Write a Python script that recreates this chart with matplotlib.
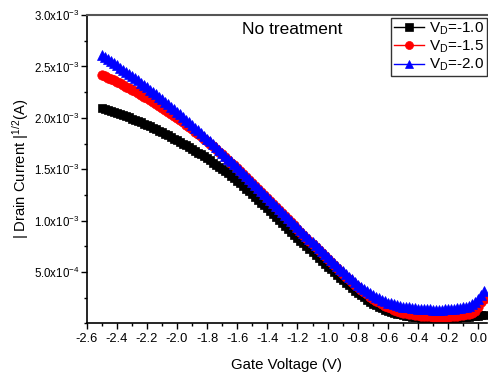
import numpy as np
import matplotlib
matplotlib.use("Agg")
import matplotlib.pyplot as plt
from matplotlib.ticker import FixedLocator, MultipleLocator

plt.rcParams['font.family'] = ['Liberation Sans', 'DejaVu Sans']
plt.rcParams['mathtext.fontset'] = 'custom'
plt.rcParams['mathtext.rm'] = 'Liberation Sans'
plt.rcParams['mathtext.default'] = 'regular'

# Gate voltage sweep (V), 0.02 V steps
gate_voltage = np.round(np.arange(-2.50, 0.041, 0.02), 2)

# |Drain current|^(1/2) in units of 1e-3 A^(1/2)
sqrt_id_vd10 = [
    2.100, 2.090, 2.080, 2.070, 2.060, 2.050, 2.039, 2.027, 2.016, 2.004,
    1.993, 1.981, 1.968, 1.955, 1.943, 1.930, 1.916, 1.902, 1.888, 1.874,
    1.860, 1.845, 1.829, 1.814, 1.798, 1.783, 1.766, 1.750, 1.733, 1.717,
    1.700, 1.681, 1.662, 1.643, 1.624, 1.605, 1.585, 1.565, 1.545, 1.525,
    1.505, 1.482, 1.459, 1.436, 1.413, 1.390, 1.364, 1.338, 1.312, 1.286,
    1.260, 1.232, 1.204, 1.176, 1.148, 1.120, 1.092, 1.063, 1.035, 1.006,
    0.978, 0.949, 0.921, 0.892, 0.864, 0.835, 0.806, 0.778, 0.749, 0.721,
    0.692, 0.664, 0.636, 0.608, 0.580, 0.552, 0.525, 0.498, 0.472, 0.445,
    0.418, 0.393, 0.369, 0.344, 0.320, 0.295, 0.273, 0.252, 0.232, 0.212,
    0.193, 0.177, 0.162, 0.148, 0.135, 0.122, 0.113, 0.104, 0.096, 0.088,
    0.080, 0.075, 0.071, 0.066, 0.062, 0.058, 0.056, 0.054, 0.053, 0.051,
    0.050, 0.050, 0.050, 0.051, 0.051, 0.052, 0.053, 0.055, 0.056, 0.058,
    0.060, 0.063, 0.066, 0.069, 0.072, 0.075, 0.080, 0.085,
]
sqrt_id_vd15 = [
    2.420, 2.406, 2.392, 2.378, 2.364, 2.350, 2.335, 2.319, 2.304, 2.288,
    2.273, 2.256, 2.240, 2.223, 2.207, 2.190, 2.172, 2.154, 2.136, 2.118,
    2.100, 2.080, 2.060, 2.040, 2.020, 2.000, 1.978, 1.956, 1.934, 1.912,
    1.890, 1.866, 1.843, 1.819, 1.796, 1.772, 1.747, 1.721, 1.696, 1.670,
    1.645, 1.618, 1.591, 1.564, 1.537, 1.510, 1.482, 1.453, 1.425, 1.396,
    1.368, 1.339, 1.310, 1.280, 1.251, 1.222, 1.192, 1.162, 1.133, 1.103,
    1.073, 1.043, 1.013, 0.983, 0.953, 0.923, 0.893, 0.863, 0.833, 0.803,
    0.773, 0.743, 0.714, 0.684, 0.655, 0.625, 0.596, 0.568, 0.539, 0.511,
    0.482, 0.456, 0.429, 0.403, 0.376, 0.350, 0.328, 0.305, 0.283, 0.260,
    0.238, 0.221, 0.205, 0.188, 0.172, 0.155, 0.145, 0.134, 0.124, 0.113,
    0.103, 0.098, 0.093, 0.087, 0.082, 0.077, 0.075, 0.073, 0.070, 0.068,
    0.066, 0.066, 0.066, 0.066, 0.067, 0.067, 0.069, 0.071, 0.074, 0.077,
    0.082, 0.087, 0.094, 0.103, 0.125, 0.160, 0.205, 0.240,
]
sqrt_id_vd20 = [
    2.610, 2.590, 2.570, 2.550, 2.530, 2.510, 2.489, 2.469, 2.448, 2.428,
    2.407, 2.385, 2.363, 2.342, 2.320, 2.298, 2.275, 2.252, 2.228, 2.205,
    2.182, 2.158, 2.133, 2.109, 2.084, 2.060, 2.034, 2.009, 1.983, 1.958,
    1.932, 1.905, 1.878, 1.852, 1.825, 1.798, 1.770, 1.743, 1.715, 1.688,
    1.660, 1.632, 1.604, 1.576, 1.548, 1.520, 1.491, 1.463, 1.434, 1.406,
    1.377, 1.348, 1.319, 1.290, 1.261, 1.232, 1.203, 1.173, 1.144, 1.114,
    1.085, 1.055, 1.026, 0.996, 0.967, 0.937, 0.908, 0.878, 0.849, 0.819,
    0.790, 0.761, 0.732, 0.703, 0.674, 0.645, 0.617, 0.589, 0.561, 0.533,
    0.505, 0.480, 0.454, 0.429, 0.403, 0.378, 0.357, 0.337, 0.316, 0.296,
    0.275, 0.261, 0.246, 0.232, 0.217, 0.203, 0.195, 0.187, 0.179, 0.171,
    0.163, 0.159, 0.155, 0.151, 0.147, 0.143, 0.141, 0.139, 0.138, 0.136,
    0.134, 0.134, 0.134, 0.135, 0.136, 0.137, 0.139, 0.142, 0.145, 0.149,
    0.155, 0.162, 0.172, 0.185, 0.205, 0.235, 0.275, 0.315,
]

series_labels = [r"V$_{D}$=-1.0", r"V$_{D}$=-1.5", r"V$_{D}$=-2.0"]
series_colors = ["black", "red", "blue"]
series_markers = ["s", "o", "^"]
series_msize = [6.3, 6.8, 7.5]

y_ticks = [5.0e-4, 1.0e-3, 1.5e-3, 2.0e-3, 2.5e-3, 3.0e-3]
y_tick_labels = [r"5.0x10$^{-4}$", r"1.0x10$^{-3}$", r"1.5x10$^{-3}$",
                 r"2.0x10$^{-3}$", r"2.5x10$^{-3}$", r"3.0x10$^{-3}$"]
x_ticks = np.round(np.arange(-2.6, 0.01, 0.2), 1)
x_tick_labels = [f"{v:.1f}" if abs(v) > 1e-9 else "0.0" for v in x_ticks]

fig = plt.figure(figsize=(4.88, 3.76), dpi=100)
ax = fig.add_axes([86.6 / 488, 1 - 323.4 / 376, 400.6 / 488, 308.4 / 376])

for vals, lab, col, mk, ms in zip(
        [sqrt_id_vd10, sqrt_id_vd15, sqrt_id_vd20],
        series_labels, series_colors, series_markers, series_msize):
    ax.plot(gate_voltage, np.array(vals) * 1e-3, color=col, marker=mk,
            markersize=ms, linewidth=1.0, markeredgewidth=0.5,
            markeredgecolor=col, label=lab)

ax.set_xlim(-2.6, 0.06)
ax.set_ylim(0, 3.0e-3)

ax.xaxis.set_major_locator(FixedLocator(x_ticks))
ax.set_xticklabels(x_tick_labels)
ax.xaxis.set_minor_locator(MultipleLocator(0.1))
ax.yaxis.set_major_locator(FixedLocator(y_ticks))
ax.set_yticklabels(y_tick_labels)
ax.yaxis.set_minor_locator(MultipleLocator(2.5e-4))

ax.tick_params(which='both', direction='out', width=1.0)
ax.tick_params(axis='x', labelsize=9.3, pad=3)
ax.tick_params(axis='y', labelsize=8.3, pad=1)
ax.tick_params(which='major', length=4)
ax.tick_params(which='minor', length=2.5)

ax.spines['right'].set_visible(False)
ax.spines['top'].set_color('#555555')
ax.spines['top'].set_linewidth(1.5)
ax.spines['left'].set_linewidth(1.2)
ax.spines['bottom'].set_linewidth(1.2)

ax.set_xlabel("Gate Voltage (V)", fontsize=10.8, labelpad=9)
ax.set_ylabel(r"| Drain Current |$^{1/2}$(A)", fontsize=10.6, labelpad=2)

fig.text(242 / 488, 1 - 29 / 376, "No treatment", fontsize=12.5,
         ha='left', va='center')

leg = ax.legend(loc='upper right', bbox_to_anchor=(487 / 488, 1 - 17.5 / 376),
                bbox_transform=fig.transFigure, fontsize=11, frameon=True,
                fancybox=False, edgecolor='black', handlelength=2.0,
                handletextpad=0.3, borderpad=0.2, labelspacing=0.12,
                borderaxespad=0, markerscale=0.85)
leg.get_frame().set_linewidth(1.0)

fig.savefig("out.png", dpi=100)
